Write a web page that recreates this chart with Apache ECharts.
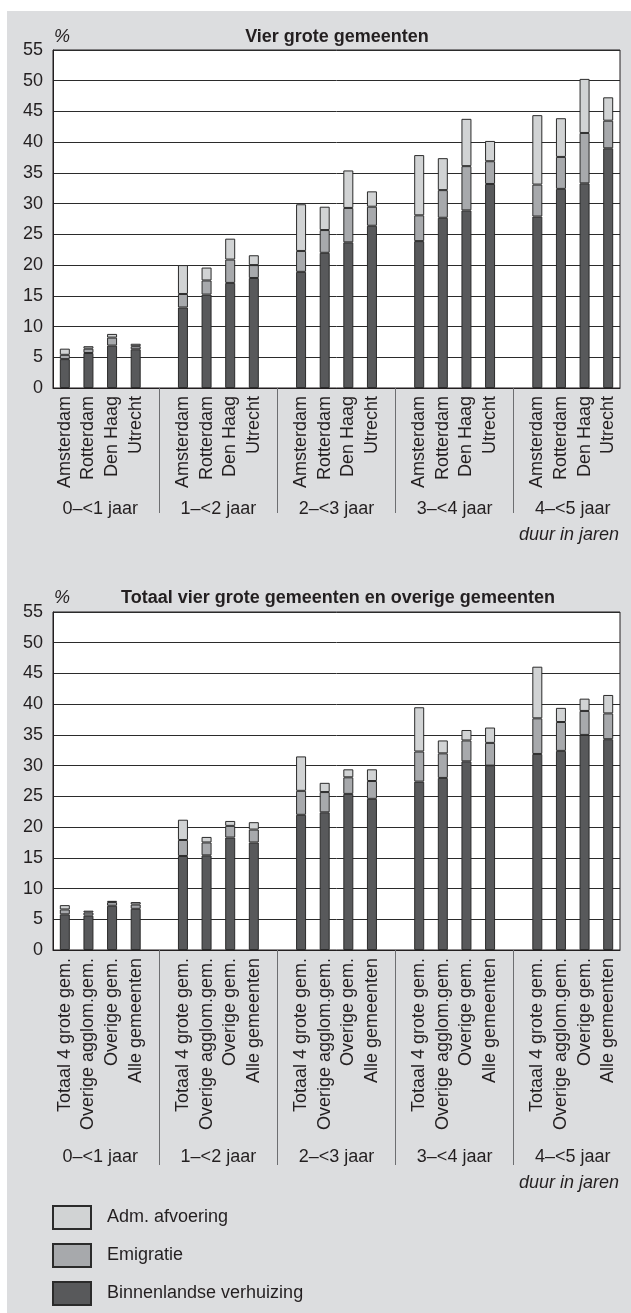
<!DOCTYPE html>
<html>
<head>
<meta charset="utf-8">
<script src="https://cdn.jsdelivr.net/npm/echarts@6/dist/echarts.min.js"></script>
<style>
  html, body { margin: 0; padding: 0; background: #ffffff; }
  #bg { position: absolute; left: 7px; top: 11px; width: 624px; height: 1302px; background: #dcdddf; }
  #chart { position: absolute; left: 0; top: 0; width: 631px; height: 1313px; }
</style>
</head>
<body>
<div id="bg"></div>
<div id="chart"></div>
<script>
// ---- Data ----
const groupLabels = ['0\u2013<1 jaar', '1\u2013<2 jaar', '2\u2013<3 jaar', '3\u2013<4 jaar', '4\u2013<5 jaar'];
const topCategories = ['Amsterdam', 'Rotterdam', 'Den Haag', 'Utrecht'];
const bottomCategories = ['Totaal 4 grote gem.', 'Overige agglom.gem.', 'Overige gem.', 'Alle gemeenten'];
const seriesNames = ['Binnenlandse verhuizing', 'Emigratie', 'Adm. afvoering'];
const legendOrder = ['Adm. afvoering', 'Emigratie', 'Binnenlandse verhuizing'];

// Vier grote gemeenten (per group: Amsterdam, Rotterdam, Den Haag, Utrecht)
const topBinnenlands = [4.7, 5.7, 6.9, 6.3, 13.1, 15.2, 17.1, 17.9, 18.9, 22.0, 23.7, 26.4, 23.9, 27.7, 28.9, 33.2, 27.9, 32.4, 33.3, 39.0];
const topEmigratie   = [0.7, 0.7, 1.3, 0.5, 2.2, 2.3, 3.8, 2.1, 3.4, 3.7, 5.6, 3.1, 4.2, 4.5, 7.2, 3.7, 5.2, 5.2, 8.2, 4.5];
const topAdm         = [1.0, 0.4, 0.6, 0.4, 4.7, 2.1, 3.4, 1.6, 7.6, 3.8, 6.1, 2.5, 9.8, 5.2, 7.7, 3.3, 11.3, 6.3, 8.8, 3.8];

// Totaal vier grote gemeenten en overige gemeenten
const botBinnenlands = [5.8, 5.6, 7.2, 6.7, 15.3, 15.4, 18.3, 17.5, 22.0, 22.4, 25.4, 24.6, 27.4, 28.0, 30.7, 30.0, 31.9, 32.4, 35.0, 34.3];
const botEmigratie   = [0.8, 0.5, 0.6, 0.7, 2.6, 2.1, 1.9, 2.1, 3.9, 3.3, 2.7, 2.9, 4.9, 4.0, 3.4, 3.7, 5.8, 4.7, 3.9, 4.2];
const botAdm         = [0.7, 0.3, 0.2, 0.4, 3.3, 0.9, 0.8, 1.2, 5.6, 1.5, 1.3, 1.9, 7.2, 2.1, 1.7, 2.5, 8.4, 2.3, 2.0, 3.0];

// ---- Build category slots (4 bars per group + an empty gap slot between groups) ----
function buildCats(cats) {
  const out = [];
  for (let g = 0; g < groupLabels.length; g++) {
    cats.forEach(c => out.push(c));
    if (g < groupLabels.length - 1) out.push('');
  }
  return out;
}
function expand(vals) {
  const out = [];
  for (let g = 0; g < groupLabels.length; g++) {
    for (let i = 0; i < 4; i++) out.push(vals[g * 4 + i]);
    if (g < groupLabels.length - 1) out.push('-');
  }
  return out;
}
const nSlots = groupLabels.length * 5 - 1;
const sepValues = [];
const groupCenters = [];
for (let g = 0; g < groupLabels.length; g++) {
  groupCenters.push(g * 5 + 2);
  if (g < groupLabels.length - 1) sepValues.push(g * 5 + 4.5);
}

const FONT = 'Liberation Sans, Arial, sans-serif';
const TXT = '#231f20';
const colors = ['#58595b', '#a7a9ac', '#d1d3d4'];

const chart = echarts.init(document.getElementById('chart'), null, { renderer: 'canvas' });

function grid(top) {
  return { left: 53, right: 11, top: top, height: 338, show: true, backgroundColor: '#ffffff', borderColor: '#231f20', borderWidth: 1, containLabel: false };
}
function catAxis(gi, cats) {
  return {
    type: 'category', gridIndex: gi, data: buildCats(cats), boundaryGap: true,
    axisLine: { show: true, lineStyle: { color: '#231f20', width: 1 } },
    axisTick: { show: false },
    axisLabel: { interval: 0, rotate: 90, margin: 8, fontSize: 18, fontFamily: FONT, color: TXT }
  };
}
function groupAxis(gi, tickLen, labelMargin) {
  return {
    type: 'value', gridIndex: gi, min: 0, max: nSlots, position: 'bottom',
    axisLine: { show: false }, splitLine: { show: false },
    axisTick: { show: true, customValues: sepValues, length: tickLen, lineStyle: { color: '#6d6e71', width: 1 } },
    axisLabel: {
      show: true, customValues: groupCenters, margin: labelMargin, fontSize: 18, fontFamily: FONT, color: TXT,
      formatter: v => groupLabels[Math.round((v - 2) / 5)]
    }
  };
}
function valAxis(gi) {
  return {
    type: 'value', gridIndex: gi, min: 0, max: 55, interval: 5,
    axisLine: { show: true, lineStyle: { color: '#231f20', width: 1 } },
    axisTick: { show: false },
    axisLabel: { margin: 10, fontSize: 18, fontFamily: FONT, color: TXT },
    splitLine: { show: true, lineStyle: { color: '#2b2b2b', width: 1 } }
  };
}
function barSeries(name, data, xi, yi, ci) {
  return {
    name: name, type: 'bar', stack: 'st' + xi, xAxisIndex: xi, yAxisIndex: yi, barWidth: 10,
    data: expand(data),
    itemStyle: { color: colors[ci], borderColor: '#2b2b2b', borderWidth: 1 },
    emphasis: { disabled: true }, animation: false
  };
}
function legendItem(name, top) {
  return {
    orient: 'vertical', left: 52, top: top, padding: 0, itemWidth: 38, itemHeight: 23,
    icon: 'rect', selectedMode: false, data: [name],
    textStyle: { fontSize: 18, fontFamily: FONT, color: TXT, padding: [12, 0, 0, 11] }
  };
}

const option = {
  animation: false,
  grid: [grid(50), grid(612)],
  xAxis: [catAxis(0, topCategories), catAxis(1, bottomCategories), groupAxis(0, 125, 112), groupAxis(1, 215, 198)],
  yAxis: [valAxis(0), valAxis(1)],
  legend: [legendItem(legendOrder[0], 1205), legendItem(legendOrder[1], 1243), legendItem(legendOrder[2], 1281)],
  series: [
    barSeries(seriesNames[0], topBinnenlands, 0, 0, 0),
    barSeries(seriesNames[1], topEmigratie, 0, 0, 1),
    barSeries(seriesNames[2], topAdm, 0, 0, 2),
    barSeries(seriesNames[0], botBinnenlands, 1, 1, 0),
    barSeries(seriesNames[1], botEmigratie, 1, 1, 1),
    barSeries(seriesNames[2], botAdm, 1, 1, 2)
  ],
  graphic: [
    { type: 'text', x: 337, y: 37, style: { text: 'Vier grote gemeenten', fontSize: 18, fontWeight: 'bold', fontFamily: FONT, fill: TXT, align: 'center', verticalAlign: 'middle' } },
    { type: 'text', x: 54, y: 37, style: { text: '%', fontSize: 18, fontStyle: 'italic', fontFamily: FONT, fill: TXT, align: 'left', verticalAlign: 'middle' } },
    { type: 'text', x: 619, y: 535, style: { text: 'duur in jaren', fontSize: 18, fontStyle: 'italic', fontFamily: FONT, fill: TXT, align: 'right', verticalAlign: 'middle' } },
    { type: 'text', x: 338, y: 598, style: { text: 'Totaal vier grote gemeenten en overige gemeenten', fontSize: 18, fontWeight: 'bold', fontFamily: FONT, fill: TXT, align: 'center', verticalAlign: 'middle' } },
    { type: 'text', x: 54, y: 598, style: { text: '%', fontSize: 18, fontStyle: 'italic', fontFamily: FONT, fill: TXT, align: 'left', verticalAlign: 'middle' } },
    { type: 'text', x: 619, y: 1183, style: { text: 'duur in jaren', fontSize: 18, fontStyle: 'italic', fontFamily: FONT, fill: TXT, align: 'right', verticalAlign: 'middle' } }
  ]
};
chart.setOption(option);
</script>
</body>
</html>
